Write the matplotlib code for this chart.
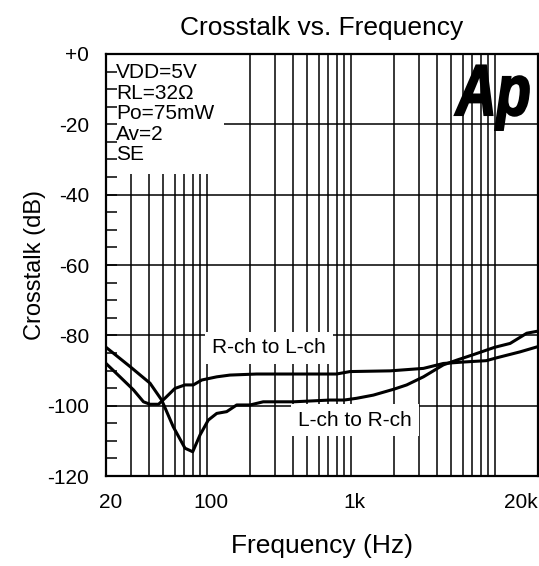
import matplotlib
matplotlib.use('Agg')
import matplotlib.pyplot as plt
from matplotlib.textpath import TextPath
from matplotlib.patches import PathPatch
from matplotlib.font_manager import FontProperties
from matplotlib.transforms import Affine2D, ScaledTranslation
import numpy as np

plt.rcParams['font.family'] = ['Liberation Sans', 'DejaVu Sans']

# --- данные ---
freq_lr = [20, 29.4, 40.4, 48.7, 58.6, 70.7, 80, 90, 102.6, 117.5, 137.7, 161.7, 200,
           247, 400, 718, 900, 1100, 1436, 2000, 2450, 3200, 4400, 5500, 7100,
           10000, 12800, 16700, 20000]
db_lr = [-83.4, -88.9, -93.6, -98.4, -106.0, -112.1, -113.1, -108.3, -104.1, -102.2,
         -101.7, -99.8, -99.8, -98.9, -98.9, -98.4, -98.4, -97.9, -97.0, -95.3,
         -94.1, -91.8, -88.4, -87.0, -85.5, -83.4, -82.3, -79.4, -78.8]

freq_rl = [20, 25, 31, 36.4, 40.4, 46.3, 51.3, 60.2, 70.7, 80.8, 92.5, 117.5, 145, 222,
           500, 796, 990, 1880, 3200, 4400, 6000, 8740, 10300, 15000, 20000]
db_rl = [-88.0, -91.8, -95.5, -98.9, -99.6, -99.6, -97.9, -95.1, -94.1, -94.1, -92.7,
         -91.8, -91.3, -91.0, -91.0, -91.0, -90.3, -90.1, -89.4, -88.0, -87.6, -87.2,
         -86.4, -84.7, -83.2]

x_ticks = [20, 100, 1000, 20000]
x_ticklabels = ['20', '100', '1k', '20k']
y_ticks = [0, -20, -40, -60, -80, -100, -120]
y_ticklabels = ['+0', '-20', '-40', '-60', '-80', '-100', '-120']
x_grid = [30, 40, 50, 60, 70, 80, 90, 100, 200, 300, 400, 500, 600, 700, 800, 900,
          1000, 2000, 3000, 4000, 5000, 6000, 7000, 8000, 9000, 10000]
y_grid = [-20, -40, -60, -80, -100]
cond_lines = ['VDD=5V', 'RL=32Ω', 'Po=75mW', 'Av=2', 'SE']

fig = plt.figure(figsize=(5.39, 5.66), dpi=100)
ax = fig.add_axes([0.1967, 0.159, 0.8015, 0.7456])
ax.set_xscale('log')
ax.set_xlim(20, 20000)
ax.set_ylim(-120, 0)

# сетка вручную, чтобы белые подложки текста её перекрывали
for f in x_grid:
    ax.axvline(f, color='black', lw=1.1, zorder=1)
for d in y_grid:
    ax.axhline(d, color='black', lw=1.1, zorder=1)

ax.plot(freq_lr, db_lr, color='black', lw=2.2, zorder=4)
ax.plot(freq_rl, db_rl, color='black', lw=2.2, zorder=4)

ax.set_xticks(x_ticks)
ax.set_xticklabels(x_ticklabels)
ax.xaxis.set_minor_locator(matplotlib.ticker.NullLocator())
ax.set_yticks(y_ticks)
ax.set_yticklabels(y_ticklabels)
ax.set_yticks(np.arange(-120, 1, 5), minor=True)
ax.tick_params(axis='x', which='both', length=0, labelsize=15, pad=12)
ax.tick_params(axis='y', which='both', direction='in', length=8, width=1.1,
               labelsize=15, pad=12)
xlabels = ax.get_xticklabels()
xlabels[-1].set_horizontalalignment('right')
shift = ScaledTranslation(3 / 72, 0, fig.dpi_scale_trans)
for lbl in xlabels[:-1]:
    lbl.set_transform(lbl.get_transform() + shift)
ax.set_axisbelow(False)
for s in ax.spines.values():
    s.set_linewidth(1.6)

ax.set_title('Crosstalk vs. Frequency', fontsize=19, pad=14)
ax.set_xlabel('Frequency (Hz)', fontsize=19, labelpad=16)
ax.set_ylabel('Crosstalk (dB)', fontsize=17, labelpad=1)

box = dict(facecolor='white', edgecolor='none', pad=5)
ax.text(23.5, -2.7, '\n'.join(cond_lines), fontsize=15, va='top', ha='left',
        linespacing=1.1, zorder=2, bbox=dict(facecolor='white', edgecolor='none', pad=7))
ax.text(109, -83.6, 'R-ch to L-ch', fontsize=15, va='center', ha='left', zorder=2, bbox=box)
ax.text(431, -104.1, 'L-ch to R-ch', fontsize=15, va='center', ha='left', zorder=2, bbox=box)

# логотип Ap
fp = FontProperties(family='Liberation Sans', weight='bold', style='italic')
tp = TextPath((0, 0), 'Ap', size=1, prop=fp)
tr = Affine2D().scale(56 / 539, 72 / 566).translate(456 / 539, (566 - 115) / 566) + fig.transFigure
fig.patches.append(PathPatch(tp, transform=tr, facecolor='black', edgecolor='black',
                             lw=1.5, zorder=5))

fig.savefig('out.png', dpi=100)
